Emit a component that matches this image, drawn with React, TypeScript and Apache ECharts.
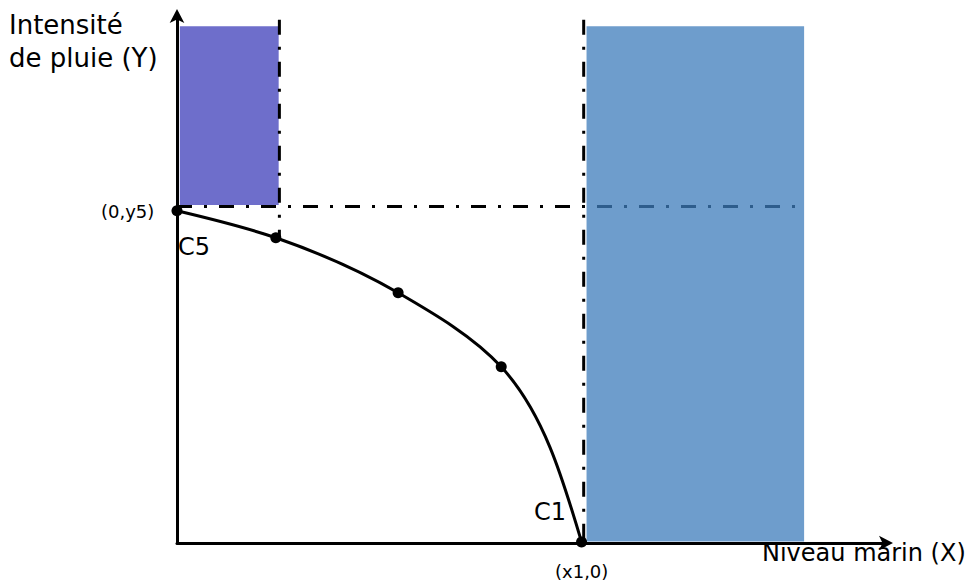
import React, { useEffect, useRef } from "react";
import * as echarts from "echarts";

// Frontier curve points (x: sea level, y: rain intensity), axis units 0..100
const curveX = [0, 13.9, 31.1, 45.6, 56.9];
const curveY = [62.8, 57.7, 47.3, 33.3, 0.2];

// Shaded regions: [x0, y0, x1, y1]
const regionBoxes = [
  [0.4, 63.9, 14.3, 97.7],
  [57.6, 0.3, 88.2, 97.7],
];
const regionColors = ["#6e6ecb", "rgba(61,124,187,0.75)"];

// Reference lines
const hLineY = 63.6;
const hLineX = [0, 87.6];
const vLine1X = 14.4;
const vLine1Y = [98.9, 57.7];
const vLine2X = 57.2;
const vLine2Y = [98.9, 0];

const yAxisName = "Intensité\nde pluie (Y)";
const xAxisName = "Niveau marin (X)";
const pointLabels = { top: "(0,y5)", c5: "C5", c1: "C1", bottom: "(x1,0)" };

export default function App() {
  const ref = useRef<HTMLDivElement>(null);
  useEffect(() => {
    if (!ref.current) return;
    const chart = echarts.init(ref.current, null, { renderer: "svg" });
    const font = "DejaVu Sans";
    const dash = [15, 12, 3, 12];
    const axisCommon = {
      type: "value",
      min: 0,
      max: 100,
      z: 10,
      axisLine: {
        show: true,
        onZero: false,
        symbol: ["none", "arrow"],
        symbolSize: [11, 14],
        symbolOffset: [0, 5],
        lineStyle: { color: "#000", width: 3 },
      },
      axisTick: { show: false },
      axisLabel: { show: false },
      splitLine: { show: false },
    };
    const txt = (text: string, left: number, top: number, size: number, extra: any = {}) => ({
      type: "text",
      left,
      top,
      style: { text, fontSize: size, fontFamily: font, fill: "#000", ...extra },
    });
    const pts = curveX.map((x, i) => [x, curveY[i]]);
    chart.setOption({
      animation: false,
      backgroundColor: "#ffffff",
      grid: { left: 177, top: 14, width: 711, height: 529 },
      xAxis: axisCommon,
      yAxis: axisCommon,
      series: [
        {
          type: "line",
          z: 1,
          symbol: "none",
          silent: true,
          data: hLineX.map((x) => [x, hLineY]),
          lineStyle: { color: "#000", width: 3, type: dash },
        },
        {
          type: "custom",
          z: 2,
          silent: true,
          data: regionBoxes,
          renderItem: (params: any, api: any) => {
            const p0 = api.coord([api.value(0), api.value(3)]);
            const p1 = api.coord([api.value(2), api.value(1)]);
            return {
              type: "rect",
              shape: { x: p0[0], y: p0[1], width: p1[0] - p0[0], height: p1[1] - p0[1] },
              style: { fill: regionColors[params.dataIndex] },
            };
          },
        },
        {
          type: "line",
          z: 3,
          symbol: "none",
          silent: true,
          data: vLine1Y.map((y) => [vLine1X, y]),
          lineStyle: { color: "#000", width: 3, type: dash },
        },
        {
          type: "line",
          z: 3,
          symbol: "none",
          silent: true,
          data: vLine2Y.map((y) => [vLine2X, y]),
          lineStyle: { color: "#000", width: 3, type: dash },
        },
        {
          // smooth frontier curve (chord-length cubic spline through the points)
          type: "custom",
          z: 4,
          silent: true,
          data: pts,
          renderItem: (params: any, api: any) => {
            const i = params.dataIndex;
            const n = pts.length;
            if (i >= n - 1) return null;
            const P = pts.map((p) => api.coord(p));
            const d: number[] = [];
            for (let k = 0; k < n - 1; k++) {
              d.push(Math.hypot(P[k + 1][0] - P[k][0], P[k + 1][1] - P[k][1]));
            }
            const D: number[][] = P.map(() => [0, 0]);
            for (let k = 1; k < n - 1; k++) {
              const w = d[k - 1] + d[k];
              D[k] = [0, 1].map(
                (j) =>
                  (((P[k + 1][j] - P[k][j]) / d[k]) * d[k - 1] +
                    ((P[k][j] - P[k - 1][j]) / d[k - 1]) * d[k]) /
                  w
              );
            }
            // ends: halfway between chord direction and parabolic end condition
            D[0] = [0, 1].map((j) => {
              const u = (P[1][j] - P[0][j]) / d[0];
              return 0.5 * u + 0.5 * (2 * u - D[1][j]);
            });
            D[n - 1] = [0, 1].map((j) => {
              const u = (P[n - 1][j] - P[n - 2][j]) / d[n - 2];
              return 0.5 * u + 0.5 * (2 * u - D[n - 2][j]);
            });
            const a = P[i], b = P[i + 1], L = d[i] / 3;
            return {
              type: "bezierCurve",
              shape: {
                x1: a[0],
                y1: a[1],
                x2: b[0],
                y2: b[1],
                cpx1: a[0] + D[i][0] * L,
                cpy1: a[1] + D[i][1] * L,
                cpx2: b[0] - D[i + 1][0] * L,
                cpy2: b[1] - D[i + 1][1] * L,
              },
              style: { stroke: "#000", lineWidth: 3, fill: null },
            };
          },
        },
        {
          type: "scatter",
          z: 5,
          silent: true,
          symbol: "circle",
          symbolSize: 11,
          data: pts,
          itemStyle: { color: "#000", opacity: 1 },
        },
      ],
      graphic: [
        txt(yAxisName, 9, 8, 26, { lineHeight: 33 }),
        txt(xAxisName, 762, 541, 24),
        txt(pointLabels.top, 101, 202, 18),
        txt(pointLabels.c5, 178, 235, 24),
        txt(pointLabels.c1, 534, 500, 24),
        txt(pointLabels.bottom, 555, 562, 18),
      ],
    });
    return () => chart.dispose();
  }, []);
  return (
    <div
      ref={ref}
      style={{ position: "absolute", left: 0, top: 0, width: 978, height: 588 }}
    />
  );
}
